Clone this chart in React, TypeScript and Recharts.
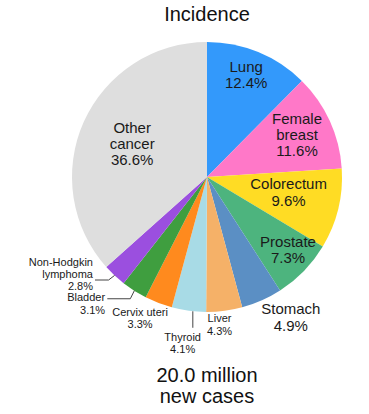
import { PieChart, Pie, Cell } from "recharts";

const cancers = [
  "Lung",
  "Female breast",
  "Colorectum",
  "Prostate",
  "Stomach",
  "Liver",
  "Thyroid",
  "Cervix uteri",
  "Bladder",
  "Non-Hodgkin lymphoma",
  "Other cancer",
];
const shares = [12.4, 11.6, 9.6, 7.3, 4.9, 4.3, 4.1, 3.3, 3.1, 2.8, 36.6];
const colors = [
  "#3399fb",
  "#ff78c8",
  "#ffdc24",
  "#4db47e",
  "#5b8fc4",
  "#f5b168",
  "#a8dbe6",
  "#ff8a1e",
  "#3f9e3f",
  "#9b4fdf",
  "#dedede",
];
const title = "Incidence";
const totalLines = ["20.0 million", "new cases"];

const data = cancers.map((name, i) => ({ name, value: shares[i] }));

const FONT = "'Liberation Sans', Arial, sans-serif";
const RAD = Math.PI / 180;

type Layout = {
  r: number;
  dx: number;
  dy: number;
  fs: number;
  lh: number;
  anchor?: "middle" | "end";
  wrap?: boolean;
  leader?: number[][];
};

// label placement per slice (polar radius + nudge), leader points relative to the slice edge
const layout: Layout[] = [
  { r: 111, dx: -3, dy: 0, fs: 15, lh: 16 },
  { r: 100, dx: -1, dy: -1.5, fs: 15, lh: 16, wrap: true },
  { r: 84, dx: 0, dy: -5, fs: 15, lh: 17 },
  { r: 110, dx: 2, dy: -4.6, fs: 15, lh: 16 },
  { r: 150, dx: 23, dy: 2.5, fs: 15, lh: 17 },
  { r: 148, dx: -6.5, dy: 0.7, fs: 11, lh: 13 },
  { r: 166, dx: -2, dy: 1.5, fs: 11, lh: 12.5, leader: [[4, 0.5], [4, 17]] },
  { r: 150, dx: -13, dy: 1, fs: 11, lh: 12.5 },
  { r: 135, dx: -29.2, dy: 12.7, fs: 11, lh: 13, anchor: "end", leader: [[0, 0], [-4, 8], [-27, 8]] },
  { r: 135, dx: -21.6, dy: -1.9, fs: 11, lh: 12, anchor: "end", wrap: true, leader: [[0, 0], [-6, 4.6], [-19.6, 4.6]] },
  { r: 82, dx: 0, dy: 0, fs: 15, lh: 16, wrap: true },
];

function renderLabel(props: any) {
  const { cx, cy, midAngle, outerRadius, index, name } = props;
  const L = layout[index];
  const cos = Math.cos(-midAngle * RAD);
  const sin = Math.sin(-midAngle * RAD);
  const x = cx + L.r * cos + L.dx;
  const y = cy + L.r * sin + L.dy;
  const ex = cx + outerRadius * cos;
  const ey = cy + outerRadius * sin;
  let lines: string[] = [name];
  if (L.wrap) {
    const k = name.indexOf(" ");
    lines = [name.slice(0, k), name.slice(k + 1)];
  }
  lines.push(`${shares[index]}%`);
  const y0 = y - ((lines.length - 1) * L.lh) / 2;
  return (
    <g key={`lab-${index}`}>
      {L.leader && (
        <polyline
          points={L.leader.map((p) => `${ex + p[0]},${ey + p[1]}`).join(" ")}
          fill="none"
          stroke="#444"
          strokeWidth={1}
        />
      )}
      <text
        x={x}
        y={y0}
        textAnchor={L.anchor || "middle"}
        dominantBaseline="central"
        fontSize={L.fs}
        fontFamily={FONT}
        fill="#1a1a1a"
      >
        {lines.map((t, i) => (
          <tspan key={i} x={x} y={y0 + i * L.lh}>
            {t}
          </tspan>
        ))}
      </text>
    </g>
  );
}

export default function App() {
  return (
    <div style={{ position: "relative", width: 369, height: 414, background: "#fff" }}>
      <style>{`body{margin:0}`}</style>
      <PieChart width={369} height={414} margin={{ top: 0, right: 0, bottom: 0, left: 0 }}>
        <Pie
          data={data}
          dataKey="value"
          nameKey="name"
          cx={207}
          cy={177}
          outerRadius={135}
          startAngle={90}
          endAngle={-270}
          stroke="none"
          labelLine={false}
          label={renderLabel}
          isAnimationActive={false}
        >
          {data.map((d, i) => (
            <Cell key={`cell-${i}`} fill={colors[i]} />
          ))}
        </Pie>
      </PieChart>
      <svg
        width={369}
        height={414}
        style={{ position: "absolute", left: 0, top: 0, pointerEvents: "none" }}
      >
        <text x={207} y={21} textAnchor="middle" fontSize={20} fontFamily={FONT} fill="#111">
          {title}
        </text>
        <text x={207} y={382} textAnchor="middle" fontSize={20} fontFamily={FONT} fill="#111">
          {totalLines[0]}
        </text>
        <text x={207} y={403} textAnchor="middle" fontSize={20} fontFamily={FONT} fill="#111">
          {totalLines[1]}
        </text>
      </svg>
    </div>
  );
}
